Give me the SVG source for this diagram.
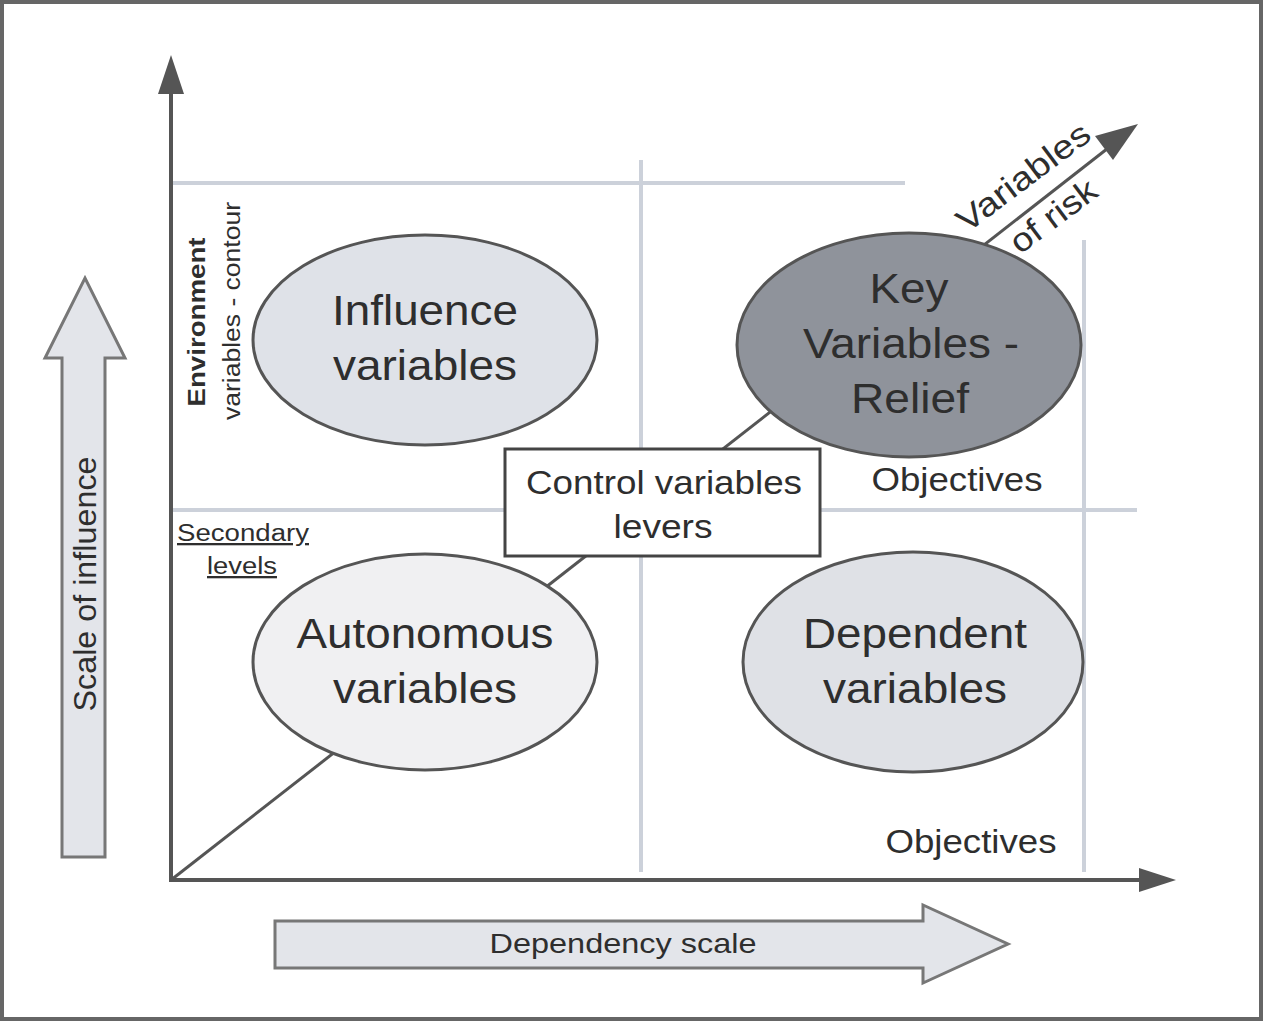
<svg xmlns="http://www.w3.org/2000/svg" width="1265" height="1023" viewBox="0 0 1265 1023">
<style>
text{font-family:"Liberation Sans",Arial,sans-serif;fill:#2e2e2e;text-anchor:middle}
.grid{stroke:#ccd1da;stroke-width:4;fill:none}
.axis{stroke:#555;stroke-width:4;fill:none}
.ell{stroke:#555;stroke-width:3}
.big{font-size:43px}
.mid{font-size:33px}
.sm{font-size:23px}
.fat{fill:#e3e5ea;stroke:#777;stroke-width:3}
</style>
<rect x="2" y="2" width="1259" height="1017" fill="#fff" stroke="#666" stroke-width="4"/>
<g id="grid">
<line class="grid" x1="171" y1="183" x2="905" y2="183"/>
<line class="grid" x1="171" y1="510" x2="1137" y2="510"/>
<line class="grid" x1="641" y1="160" x2="641" y2="872"/>
<line class="grid" x1="1084" y1="240" x2="1084" y2="872"/>
</g>
<g id="connectors">
<line class="axis" x1="171" y1="882" x2="171" y2="94"/>
<path d="M158,94 L171,55 L184,94 Z" fill="#555"/>
<line class="axis" x1="169" y1="880" x2="1140" y2="880"/>
<path d="M1139,868 L1176,880 L1139,892 Z" fill="#555"/>
<line stroke="#555" stroke-width="3" x1="171" y1="880" x2="1112" y2="145"/>
<path d="M1138,124 L1095,136 L1113,160 Z" fill="#555"/>
</g>
<g id="influence">
<ellipse class="ell" cx="425" cy="340" rx="172" ry="105" fill="#dfe2e8"/>
<text class="big" x="425" y="325" textLength="186" lengthAdjust="spacingAndGlyphs">Influence</text>
<text class="big" x="425" y="380" textLength="184" lengthAdjust="spacingAndGlyphs">variables</text>
</g>
<g id="key">
<ellipse class="ell" cx="909" cy="345" rx="172" ry="112" fill="#8f939b"/>
<text class="big" x="909" y="303" textLength="79" lengthAdjust="spacingAndGlyphs">Key</text>
<text class="big" x="911" y="358" textLength="216" lengthAdjust="spacingAndGlyphs">Variables -</text>
<text class="big" x="910" y="413" textLength="118" lengthAdjust="spacingAndGlyphs">Relief</text>
</g>
<g id="autonomous">
<ellipse class="ell" cx="425" cy="662" rx="172" ry="108" fill="#f0f0f2"/>
<text class="big" x="425" y="648" textLength="257" lengthAdjust="spacingAndGlyphs">Autonomous</text>
<text class="big" x="425" y="703" textLength="184" lengthAdjust="spacingAndGlyphs">variables</text>
</g>
<g id="dependent">
<ellipse class="ell" cx="913" cy="662" rx="170" ry="110" fill="#dfe1e6"/>
<text class="big" x="915" y="648" textLength="224" lengthAdjust="spacingAndGlyphs">Dependent</text>
<text class="big" x="915" y="703" textLength="184" lengthAdjust="spacingAndGlyphs">variables</text>
</g>
<g id="control">
<rect x="505" y="449" width="315" height="107" fill="#fff" stroke="#444" stroke-width="3"/>
<text class="mid" x="664" y="494" textLength="276" lengthAdjust="spacingAndGlyphs">Control variables</text>
<text class="mid" x="663" y="538" textLength="99" lengthAdjust="spacingAndGlyphs">levers</text>
</g>
<g id="labels">
<text class="mid" x="957" y="491" textLength="171" lengthAdjust="spacingAndGlyphs">Objectives</text>
<text class="mid" x="971" y="853" textLength="171" lengthAdjust="spacingAndGlyphs">Objectives</text>
<text class="sm" x="243" y="541" text-decoration="underline" textLength="132" lengthAdjust="spacingAndGlyphs">Secondary</text>
<text class="sm" x="242" y="574" text-decoration="underline" textLength="70" lengthAdjust="spacingAndGlyphs">levels</text>
<text class="sm" transform="translate(205,322) rotate(-90)" font-weight="bold" textLength="169" lengthAdjust="spacingAndGlyphs">Environment</text>
<text class="sm" transform="translate(240,311) rotate(-90)" textLength="218" lengthAdjust="spacingAndGlyphs">variables - contour</text>
<text class="mid" transform="translate(1030,186) rotate(-37)" textLength="158" lengthAdjust="spacingAndGlyphs">Variables</text>
<text class="mid" transform="translate(1060,225) rotate(-37)" textLength="100" lengthAdjust="spacingAndGlyphs">of risk</text>
</g>
<g id="influence-scale">
<path class="fat" d="M62,857 L62,358 L45,358 L85,278 L125,358 L105,358 L105,857 Z"/>
<text font-size="31" transform="translate(96,584) rotate(-90)" textLength="255" lengthAdjust="spacingAndGlyphs">Scale of influence</text>
</g>
<g id="dependency-scale">
<path class="fat" d="M275,921 L923,921 L923,905 L1008,944 L923,983 L923,968 L275,968 Z"/>
<text font-size="28" x="623" y="953" textLength="267" lengthAdjust="spacingAndGlyphs">Dependency scale</text>
</g>
</svg>
